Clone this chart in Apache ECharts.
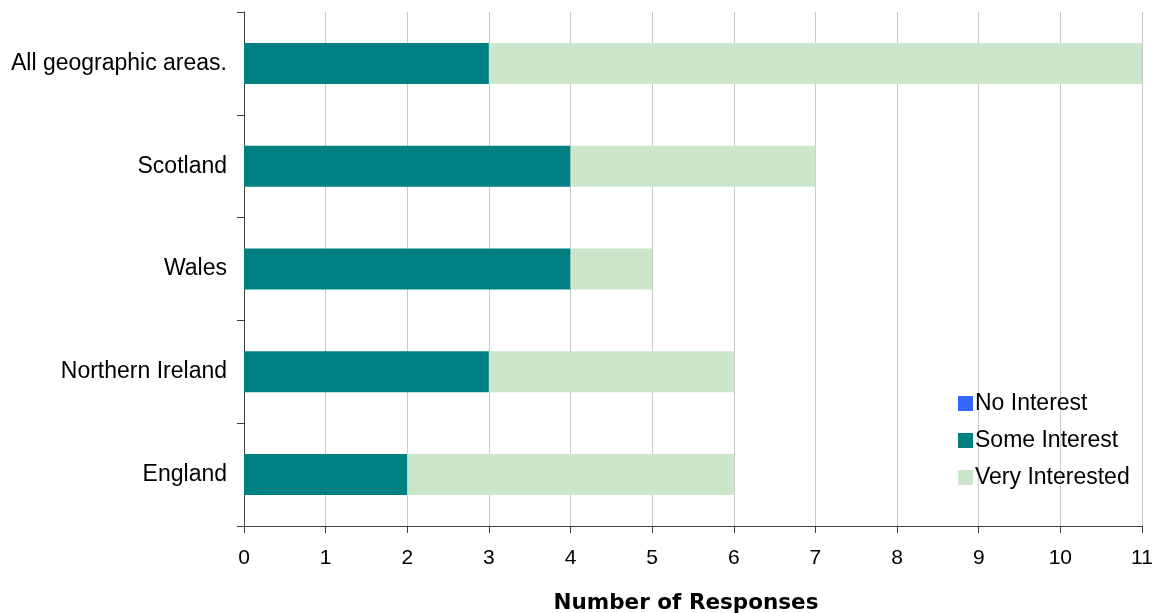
<!DOCTYPE html>
<html><head><meta charset="utf-8">
<script src="https://cdn.jsdelivr.net/npm/echarts@6/dist/echarts.min.js"></script>
<style>html,body{margin:0;padding:0;background:#fff}#c{width:1158px;height:613px}</style>
</head><body><div id="c"></div>
<script>
var categories = ['England', 'Northern Ireland', 'Wales', 'Scotland', 'All geographic areas.'];
var noInterest = [0, 0, 0, 0, 0];
var someInterest = [2, 3, 4, 4, 3];
var veryInterested = [4, 3, 1, 3, 8];
var xTicks = [0, 11, 1];

var chart = echarts.init(document.getElementById('c'));
var font = 'Liberation Sans, Arial, sans-serif';
chart.setOption({
  animation: false,
  textStyle: {fontFamily: font},
  grid: {left: 244, right: 16, top: 12, bottom: 87, containLabel: false, outerBoundsMode: 'none'},
  legend: {
    orient: 'vertical', left: 953, top: 386,
    itemWidth: 15, itemHeight: 15, itemGap: 12,
    icon: 'rect',
    textStyle: {fontSize: 23, color: '#000', fontFamily: font, padding: [0,0,0,-3], lineHeight: 25},
    data: ['No Interest', 'Some Interest', 'Very Interested']
  },
  xAxis: {
    type: 'value', min: xTicks[0], max: xTicks[1], interval: xTicks[2],
    name: 'Number of Responses', nameLocation: 'middle', nameGap: 66,
    nameTextStyle: {fontSize: 21.5, fontWeight: 'bold', color: '#000', fontFamily: 'DejaVu Sans, Liberation Sans, sans-serif', padding: [0,14,0,0]},
    axisLine: {show: true, lineStyle: {color: '#404040', width: 1}},
    axisTick: {show: true, length: 7, lineStyle: {color: '#404040'}},
    axisLabel: {fontSize: 21, color: '#000', margin: 22},
    splitLine: {show: true, lineStyle: {color: '#c8c8c8', width: 1}}
  },
  yAxis: {
    type: 'category', data: categories,
    axisLine: {show: true, lineStyle: {color: '#404040', width: 1}},
    axisTick: {show: true, length: 7, alignWithLabel: false, lineStyle: {color: '#404040'}},
    axisLabel: {fontSize: 23, color: '#000', margin: 17},
    splitLine: {show: false}
  },
  series: [
    {name: 'No Interest', type: 'bar', stack: 't', data: noInterest, barWidth: 41, itemStyle: {color: '#3366ff'}},
    {name: 'Some Interest', type: 'bar', stack: 't', data: someInterest, barWidth: 41, itemStyle: {color: '#008080'}},
    {name: 'Very Interested', type: 'bar', stack: 't', data: veryInterested, barWidth: 41, itemStyle: {color: '#cce6cc'}}
  ]
});
</script></body></html>
